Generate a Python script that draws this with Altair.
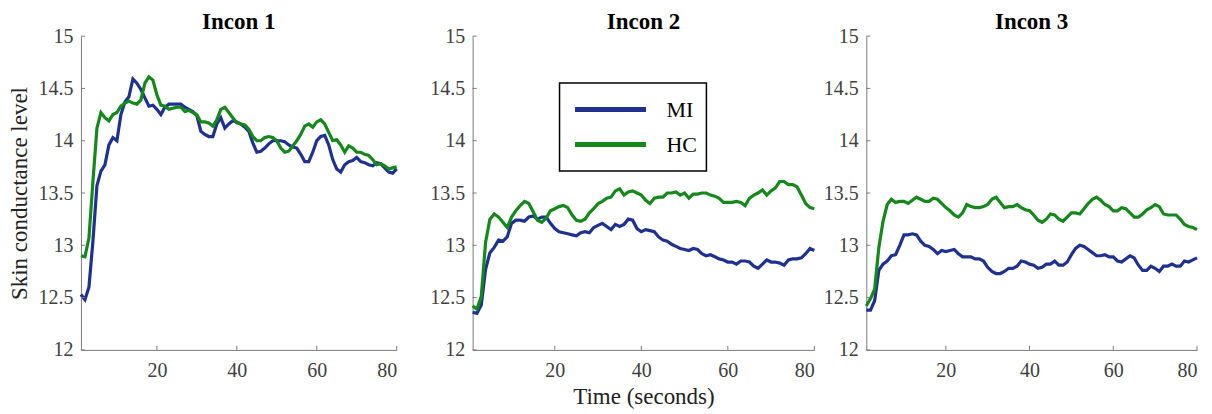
import altair as alt
import pandas as pd

# ---------------- data ----------------
time = list(range(1, 81))

mi1 = [12.53, 12.48, 12.60, 13.04, 13.57, 13.71, 13.77, 13.96, 14.03, 14.00,
       14.25, 14.37, 14.42, 14.59, 14.55, 14.49, 14.41, 14.33, 14.34, 14.30,
       14.25, 14.32, 14.35, 14.35, 14.35, 14.35, 14.32, 14.30, 14.28, 14.24,
       14.09, 14.06, 14.04, 14.04, 14.16, 14.22, 14.12, 14.16, 14.19, 14.18,
       14.16, 14.13, 14.09, 13.98, 13.89, 13.90, 13.93, 13.97, 14.00, 14.00,
       14.00, 13.99, 13.96, 13.94, 13.93, 13.87, 13.80, 13.80, 13.89, 14.00,
       14.04, 14.05, 13.96, 13.82, 13.73, 13.70, 13.77, 13.80, 13.81, 13.84,
       13.80, 13.79, 13.77, 13.76, 13.79, 13.78, 13.74, 13.70, 13.69, 13.73]
hc1 = [12.90, 12.89, 13.07, 13.61, 14.12, 14.27, 14.22, 14.19, 14.25, 14.27,
       14.33, 14.36, 14.38, 14.36, 14.35, 14.39, 14.55, 14.61, 14.58, 14.44,
       14.34, 14.33, 14.30, 14.31, 14.32, 14.32, 14.28, 14.29, 14.27, 14.25,
       14.18, 14.18, 14.17, 14.14, 14.20, 14.30, 14.32, 14.27, 14.22, 14.17,
       14.16, 14.15, 14.11, 14.04, 14.00, 14.00, 14.03, 14.04, 14.03, 14.00,
       13.93, 13.89, 13.90, 13.95, 14.00, 14.06, 14.14, 14.16, 14.13, 14.18,
       14.20, 14.16, 14.08, 14.00, 14.01, 13.96, 13.89, 13.95, 13.93, 13.89,
       13.89, 13.87, 13.86, 13.82, 13.77, 13.78, 13.76, 13.73, 13.74, 13.75]

mi2 = [12.36, 12.35, 12.43, 12.77, 12.93, 12.98, 13.05, 13.04, 13.08, 13.21,
       13.24, 13.24, 13.23, 13.27, 13.28, 13.25, 13.27, 13.27, 13.21, 13.16,
       13.13, 13.12, 13.11, 13.10, 13.09, 13.12, 13.13, 13.12, 13.17, 13.19,
       13.21, 13.18, 13.15, 13.20, 13.18, 13.20, 13.25, 13.24, 13.16, 13.13,
       13.15, 13.14, 13.13, 13.08, 13.05, 13.04, 13.01, 12.99, 12.97, 12.96,
       12.95, 12.97, 12.96, 12.92, 12.90, 12.91, 12.89, 12.87, 12.86, 12.84,
       12.84, 12.82, 12.85, 12.85, 12.84, 12.80, 12.78, 12.82, 12.86, 12.84,
       12.84, 12.83, 12.81, 12.86, 12.87, 12.87, 12.88, 12.92, 12.97, 12.95]
hc2 = [12.42, 12.39, 12.51, 13.03, 13.25, 13.30, 13.27, 13.22, 13.17, 13.27,
       13.33, 13.38, 13.42, 13.40, 13.32, 13.24, 13.22, 13.26, 13.33, 13.35,
       13.37, 13.38, 13.36, 13.29, 13.24, 13.23, 13.25, 13.31, 13.35, 13.40,
       13.42, 13.45, 13.46, 13.52, 13.54, 13.48, 13.51, 13.52, 13.50, 13.48,
       13.43, 13.40, 13.45, 13.46, 13.46, 13.50, 13.50, 13.51, 13.48, 13.50,
       13.45, 13.49, 13.49, 13.50, 13.50, 13.48, 13.47, 13.45, 13.41, 13.41,
       13.41, 13.42, 13.41, 13.38, 13.45, 13.48, 13.50, 13.53, 13.48, 13.52,
       13.55, 13.61, 13.61, 13.58, 13.58, 13.56, 13.48, 13.40, 13.36, 13.35]

mi3 = [12.38, 12.38, 12.47, 12.76, 12.82, 12.85, 12.90, 12.91, 13.00, 13.10,
       13.10, 13.11, 13.10, 13.04, 13.00, 12.99, 12.96, 12.92, 12.95, 12.94,
       12.95, 12.96, 12.92, 12.89, 12.89, 12.89, 12.87, 12.87, 12.85, 12.79,
       12.75, 12.73, 12.73, 12.75, 12.78, 12.78, 12.80, 12.85, 12.84, 12.82,
       12.81, 12.78, 12.79, 12.82, 12.82, 12.85, 12.81, 12.81, 12.84, 12.91,
       12.97, 13.00, 12.99, 12.96, 12.93, 12.90, 12.90, 12.91, 12.89, 12.89,
       12.85, 12.84, 12.87, 12.90, 12.88, 12.81, 12.76, 12.76, 12.80, 12.78,
       12.75, 12.80, 12.80, 12.82, 12.80, 12.80, 12.85, 12.84, 12.86, 12.88]
hc3 = [12.42, 12.49, 12.58, 12.98, 13.23, 13.39, 13.44, 13.41, 13.42, 13.42,
       13.40, 13.43, 13.46, 13.44, 13.42, 13.42, 13.45, 13.44, 13.40, 13.36,
       13.33, 13.29, 13.27, 13.31, 13.39, 13.37, 13.36, 13.36, 13.37, 13.39,
       13.44, 13.46, 13.41, 13.36, 13.37, 13.37, 13.39, 13.36, 13.34, 13.33,
       13.29, 13.24, 13.22, 13.25, 13.30, 13.29, 13.25, 13.23, 13.27, 13.31,
       13.31, 13.30, 13.35, 13.40, 13.44, 13.46, 13.43, 13.39, 13.37, 13.33,
       13.33, 13.36, 13.35, 13.31, 13.27, 13.27, 13.30, 13.34, 13.36, 13.39,
       13.37, 13.30, 13.29, 13.29, 13.29, 13.25, 13.20, 13.18, 13.17, 13.15]

panels = ["Incon 1", "Incon 2", "Incon 3"]
groups = ["MI", "HC"]
series = {("Incon 1", "MI"): mi1, ("Incon 1", "HC"): hc1,
          ("Incon 2", "MI"): mi2, ("Incon 2", "HC"): hc2,
          ("Incon 3", "MI"): mi3, ("Incon 3", "HC"): hc3}

y_ticks = [12, 12.5, 13, 13.5, 14, 14.5, 15]
x_ticks = [20, 40, 60, 80]

# ---------------- styling ----------------
FONT = "Times New Roman, Liberation Serif, serif"
BLUE = "#1f3190"
GREEN = "#14881a"
AXIS_GRAY = "#7a7a7a"
PLOT_H = 314
widths = [316, 342, 331]

rows = []
for p in panels:
    for g in groups:
        for t, v in zip(time, series[(p, g)]):
            rows.append({"panel": p, "time": t, "group": g, "value": v})
df = pd.DataFrame(rows)
ytick_df = pd.DataFrame({"value": y_ticks})
xtick_df = pd.DataFrame({"time": x_ticks})


def make_panel(idx):
    name = panels[idx]
    w = widths[idx]
    x_title = "Time (seconds)" if idx == 1 else None
    y_title = "Skin conductance level" if idx == 0 else None
    if idx == 1:
        legend = alt.Legend(
            orient="none", legendX=87, legendY=47, title=None,
            symbolType="stroke", symbolSize=5041, symbolStrokeWidth=5,
            symbolOffset=4,
            clipHeight=35, labelFontSize=22, labelFont=FONT, labelColor="black",
            padding=9, strokeColor="black", fillColor="white",
            labelOffset=18, rowPadding=0,
            labelExpr="datum.label + '     '",
        )
    else:
        legend = None

    xscale = alt.Scale(domain=[1, 80], nice=False, zero=False)
    yscale = alt.Scale(domain=[12, 15], nice=False, zero=False)

    x_kwargs = dict(values=x_ticks, grid=False, ticks=False, labelPadding=11,
                    titlePadding=5)
    x_kwargs["title"] = x_title if x_title else None
    y_kwargs = dict(values=y_ticks, grid=False, ticks=False, format="~g",
                    labelPadding=8, titlePadding=6)
    y_kwargs["title"] = y_title if y_title else None

    base = alt.Chart(df[df["panel"] == name])
    lines = base.mark_line(strokeWidth=3.2).encode(
        x=alt.X("time:Q", scale=xscale, axis=alt.Axis(**x_kwargs)),
        y=alt.Y("value:Q", scale=yscale, axis=alt.Axis(**y_kwargs)),
        color=alt.Color("group:N",
                        scale=alt.Scale(domain=groups, range=[BLUE, GREEN]),
                        sort=groups, legend=legend),
        detail="group:N",
    )
    yt = alt.Chart(ytick_df).mark_rule(color=AXIS_GRAY, strokeWidth=1).encode(
        y=alt.Y("value:Q", scale=yscale),
        x=alt.value(0), x2=alt.value(4),
    )
    xt = alt.Chart(xtick_df).mark_rule(color=AXIS_GRAY, strokeWidth=1).encode(
        x=alt.X("time:Q", scale=xscale),
        y=alt.value(PLOT_H), y2=alt.value(PLOT_H - 4),
    )
    return alt.layer(lines, yt, xt).properties(
        width=w, height=PLOT_H,
        title=alt.TitleParams(text=name, font=FONT, fontSize=23,
                              fontWeight="bold", color="black", offset=-8,
                              anchor="middle"),
    )


p1, p2, p3 = (make_panel(i) for i in range(3))

inner = alt.hconcat(p2, p3, spacing=2).resolve_scale(color="independent")
chart = (
    alt.hconcat(p1, inner, spacing=26)
    .resolve_scale(color="independent")
    .properties(padding={"left": 1, "top": 3, "right": 0, "bottom": 0})
    .configure_view(strokeWidth=0)
    .configure_axis(
        labelFont=FONT, labelFontSize=20, labelColor="#404040",
        titleFont=FONT, titleFontSize=23, titleFontWeight="normal",
        titleColor="#222222", domainColor=AXIS_GRAY, domainWidth=1,
    )
    .configure_legend(strokeWidth=1.5)
)

chart.save("out.html", embed_options={"renderer": "svg", "actions": False})
